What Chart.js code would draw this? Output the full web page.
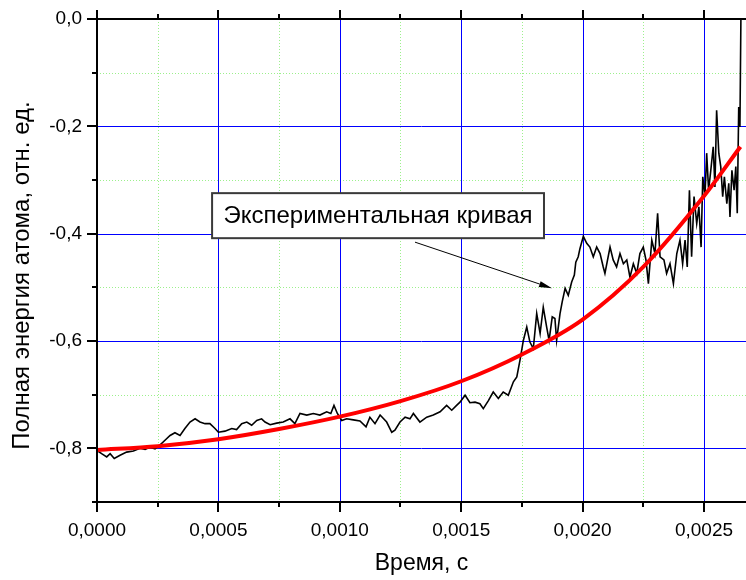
<!DOCTYPE html>
<html><head><meta charset="utf-8">
<script src="https://cdn.jsdelivr.net/npm/chart.js@4.4.0/dist/chart.umd.min.js"></script>
<style>html,body{margin:0;padding:0;background:#fff;}#wrap{width:746px;height:580px;}</style>
</head><body><div id="wrap"><canvas id="c" width="746" height="580"></canvas></div>
<script>
// ---- data ----
const expTime = [0,0.000019,0.000040,0.000054,0.000071,0.000095,0.000122,0.000150,0.000177,0.000198,0.000218,0.000239,0.000259,0.000280,0.000301,0.000321,0.000342,0.000362,0.000383,0.000404,0.000424,0.000445,0.000465,0.000486,0.000500,0.000527,0.000555,0.000575,0.000596,0.000617,0.000637,0.000658,0.000678,0.000692,0.000713,0.000740,0.000767,0.000795,0.000815,0.000836,0.000864,0.000891,0.000918,0.000946,0.000963,0.000976,0.000990,0.001008,0.001028,0.001056,0.001083,0.001108,0.001124,0.001145,0.001166,0.001193,0.001214,0.001227,0.001248,0.001269,0.001289,0.001303,0.001330,0.001358,0.001385,0.001413,0.001440,0.001461,0.001481,0.001495,0.001516,0.001536,0.001557,0.001577,0.001591,0.001612,0.001632,0.001653,0.001673,0.001694,0.001715,0.001729,0.001742,0.001756,0.001770,0.001783,0.001797,0.001811,0.001825,0.001838,0.001852,0.001862,0.001875,0.001886,0.001893,0.001907,0.001916,0.001928,0.001941,0.001955,0.001966,0.001972,0.001982,0.001989,0.002003,0.002017,0.002030,0.002044,0.002058,0.002072,0.002085,0.002092,0.002113,0.002126,0.002140,0.002154,0.002168,0.002182,0.002195,0.002209,0.002223,0.002236,0.002250,0.002261,0.002271,0.002285,0.002298,0.002309,0.002319,0.002335,0.002346,0.002360,0.002374,0.002388,0.002401,0.002412,0.002422,0.002431,0.002440,0.002449,0.002459,0.002470,0.002479,0.002488,0.002495,0.002504,0.002511,0.002519,0.002528,0.002538,0.002545,0.002552,0.002561,0.002569,0.002577,0.002584,0.002594,0.002602,0.002607,0.002615,0.002624,0.002631,0.002637,0.002643,0.002648,0.002652];
const expEnergy = [-0.804,-0.810,-0.816,-0.810,-0.819,-0.813,-0.807,-0.805,-0.800,-0.802,-0.798,-0.801,-0.794,-0.785,-0.776,-0.771,-0.776,-0.763,-0.751,-0.745,-0.751,-0.754,-0.754,-0.763,-0.770,-0.768,-0.763,-0.765,-0.754,-0.751,-0.757,-0.748,-0.745,-0.751,-0.756,-0.753,-0.751,-0.745,-0.754,-0.735,-0.738,-0.735,-0.738,-0.732,-0.735,-0.720,-0.735,-0.748,-0.745,-0.747,-0.749,-0.760,-0.742,-0.754,-0.738,-0.751,-0.770,-0.766,-0.751,-0.742,-0.745,-0.735,-0.751,-0.742,-0.738,-0.732,-0.720,-0.729,-0.720,-0.714,-0.701,-0.715,-0.714,-0.717,-0.726,-0.711,-0.695,-0.707,-0.695,-0.701,-0.676,-0.667,-0.636,-0.599,-0.574,-0.602,-0.614,-0.549,-0.586,-0.537,-0.574,-0.599,-0.555,-0.558,-0.599,-0.549,-0.527,-0.502,-0.515,-0.490,-0.477,-0.453,-0.443,-0.428,-0.405,-0.418,-0.425,-0.443,-0.425,-0.437,-0.462,-0.474,-0.425,-0.449,-0.462,-0.437,-0.456,-0.449,-0.481,-0.456,-0.474,-0.437,-0.425,-0.449,-0.493,-0.412,-0.437,-0.362,-0.443,-0.449,-0.474,-0.456,-0.493,-0.437,-0.412,-0.456,-0.412,-0.462,-0.319,-0.443,-0.331,-0.381,-0.350,-0.425,-0.294,-0.331,-0.250,-0.319,-0.282,-0.238,-0.313,-0.170,-0.250,-0.275,-0.331,-0.294,-0.344,-0.306,-0.369,-0.282,-0.319,-0.275,-0.362,-0.164,-0.201,0.0];
const fitTime = [0,0.00025,0.0005,0.00075,0.001,0.00125,0.0015,0.00175,0.002,0.00225,0.0025,0.00265];
const fitEnergy = [-0.803,-0.796,-0.783,-0.764,-0.741,-0.712,-0.675,-0.625,-0.560,-0.462,-0.330,-0.238];
const xMajorTicks = [0,0.0005,0.001,0.0015,0.002,0.0025];
const xTickLabels = ['0,0000','0,0005','0,0010','0,0015','0,0020','0,0025'];
const xMinorTicks = [0.00025,0.00075,0.00125,0.00175,0.00225];
const yMajorTicks = [-0.8,-0.6,-0.4,-0.2,0.0];
const yTickLabels = ['-0,8','-0,6','-0,4','-0,2','0,0'];
const yMinorTicks = [-0.9,-0.7,-0.5,-0.3,-0.1];
const xTitle = 'Время, с';
const yTitle = 'Полная энергия атома, отн. ед.';
const annotationText = 'Экспериментальная кривая';

const FONT = '"Liberation Sans", Arial, Helvetica, sans-serif';

const framePlugin = {
  id: 'frame',
  beforeDatasetsDraw(chart) {
    const {ctx, chartArea: a, scales: {x, y}} = chart;
    const px = v => Math.round(x.getPixelForValue(v)) + 0.5;
    const py = v => Math.round(y.getPixelForValue(v)) + 0.5;
    ctx.save();
    ctx.lineWidth = 1;
    ctx.strokeStyle = '#9cf08c';
    ctx.setLineDash([1, 2]);
    ctx.beginPath();
    xMinorTicks.forEach(v => { const p = px(v); ctx.moveTo(p, a.top); ctx.lineTo(p, a.bottom); });
    yMinorTicks.filter(v => v > -0.9).forEach(v => { const p = py(v); ctx.moveTo(a.left, p); ctx.lineTo(a.right, p); });
    ctx.stroke();
    ctx.setLineDash([]);
    ctx.strokeStyle = '#0000ff';
    ctx.beginPath();
    xMajorTicks.filter(v => v > 0).forEach(v => { const p = px(v); ctx.moveTo(p, a.top); ctx.lineTo(p, a.bottom); });
    yMajorTicks.filter(v => v < 0).forEach(v => { const p = py(v); ctx.moveTo(a.left, p); ctx.lineTo(a.right, p); });
    ctx.stroke();
    ctx.restore();
  },
  afterDatasetsDraw(chart) {
    const {ctx, chartArea: a, scales: {x, y}} = chart;
    ctx.save();
    ctx.strokeStyle = '#000';
    ctx.lineWidth = 2;
    ctx.beginPath();
    ctx.moveTo(a.left, a.top); ctx.lineTo(a.left, a.bottom);
    ctx.moveTo(a.left - 1, a.bottom); ctx.lineTo(a.right, a.bottom);
    ctx.moveTo(a.left - 1, a.top); ctx.lineTo(a.right, a.top);
    ctx.stroke();
    ctx.beginPath();
    xMajorTicks.forEach(v => { const p = Math.round(x.getPixelForValue(v)); ctx.moveTo(p, a.bottom); ctx.lineTo(p, a.bottom + 10); ctx.moveTo(p, a.top); ctx.lineTo(p, a.top - 9); });
    xMinorTicks.forEach(v => { const p = Math.round(x.getPixelForValue(v)); ctx.moveTo(p, a.bottom); ctx.lineTo(p, a.bottom + 5); ctx.moveTo(p, a.top); ctx.lineTo(p, a.top - 5); });
    yMajorTicks.forEach(v => { const p = Math.round(y.getPixelForValue(v)); ctx.moveTo(a.left, p); ctx.lineTo(a.left - 10, p); });
    yMinorTicks.forEach(v => { const p = Math.round(y.getPixelForValue(v)); ctx.moveTo(a.left, p); ctx.lineTo(a.left - 5, p); });
    ctx.stroke();

    // y axis title
    ctx.fillStyle = '#000';
    ctx.font = '24px ' + FONT;
    ctx.textAlign = 'center';
    ctx.textBaseline = 'alphabetic';
    ctx.save();
    ctx.translate(29, 275.5);
    ctx.rotate(-Math.PI / 2);
    ctx.fillText(yTitle, 0, 0);
    ctx.restore();

    // annotation box (data coordinates)
    const bx1 = x.getPixelForValue(0.000474), bx2 = x.getPixelForValue(0.001841);
    const by1 = y.getPixelForValue(-0.3245), by2 = y.getPixelForValue(-0.4084);
    ctx.fillStyle = '#fff';
    ctx.fillRect(bx1, by1, bx2 - bx1, by2 - by1);
    ctx.strokeStyle = '#3a3a3a';
    ctx.lineWidth = 2;
    ctx.strokeRect(bx1, by1, bx2 - bx1, by2 - by1);
    ctx.fillStyle = '#000';
    ctx.font = '24px ' + FONT;
    ctx.textAlign = 'center';
    ctx.textBaseline = 'middle';
    ctx.fillText(annotationText, (bx1 + bx2) / 2, (by1 + by2) / 2 + 1);

    // arrow
    const ax1 = x.getPixelForValue(0.0013097), ay1 = y.getPixelForValue(-0.4158);
    const ax2 = x.getPixelForValue(0.001874), ay2 = y.getPixelForValue(-0.5016);
    ctx.strokeStyle = '#000';
    ctx.lineWidth = 1;
    const ang = Math.atan2(ay2 - ay1, ax2 - ax1);
    const hl = 13, hw = 3;
    const bxh = ax2 - hl * Math.cos(ang), byh = ay2 - hl * Math.sin(ang);
    ctx.beginPath(); ctx.moveTo(ax1, ay1); ctx.lineTo(bxh, byh); ctx.stroke();
    ctx.beginPath();
    ctx.moveTo(ax2, ay2);
    ctx.lineTo(bxh + hw * Math.sin(ang), byh - hw * Math.cos(ang));
    ctx.lineTo(bxh - hw * Math.sin(ang), byh + hw * Math.cos(ang));
    ctx.closePath(); ctx.fill();
    ctx.restore();
  }
};

const expData = expTime.map((t, i) => ({x: t, y: expEnergy[i]}));
const fitData = fitTime.map((t, i) => ({x: t, y: fitEnergy[i]}));

new Chart(document.getElementById('c'), {
  type: 'line',
  data: {
    datasets: [
      {label: 'fit', data: fitData, borderColor: '#ff0000', borderWidth: 4, pointRadius: 0, cubicInterpolationMode: 'monotone', fill: false},
      {label: 'exp', data: expData, borderColor: '#000000', borderWidth: 1.6, pointRadius: 0, tension: 0, fill: false}
    ]
  },
  options: {
    responsive: false,
    devicePixelRatio: 1,
    animation: false,
    layout: {padding: {top: 19, right: 0, left: 0, bottom: 0}},
    plugins: {legend: {display: false}, tooltip: {enabled: false}},
    scales: {
      x: {
        type: 'linear', min: 0, max: 0.002673,
        afterBuildTicks: s => { s.ticks = xMajorTicks.map(v => ({value: v})); },
        afterFit: s => { s.height = 78; s.paddingLeft = 0; s.paddingRight = 0; },
        ticks: {callback: (v, i) => xTickLabels[i], autoSkip: false, maxRotation: 0, color: '#000', padding: 17, font: {family: FONT, size: 19}},
        grid: {display: false, drawTicks: false},
        border: {display: false},
        title: {display: true, text: xTitle, color: '#000', font: {family: FONT, size: 23}, padding: {top: 0, bottom: 3}}
      },
      y: {
        type: 'linear', min: -0.9, max: 0,
        afterBuildTicks: s => { s.ticks = yMajorTicks.map(v => ({value: v})); },
        afterFit: s => { s.width = 97; s.paddingTop = 0; s.paddingBottom = 0; },
        ticks: {callback: (v, i) => yTickLabels[i], autoSkip: false, color: '#000', padding: 15, font: {family: FONT, size: 19}},
        grid: {display: false, drawTicks: false},
        border: {display: false}
      }
    }
  },
  plugins: [framePlugin]
});
</script></body></html>
